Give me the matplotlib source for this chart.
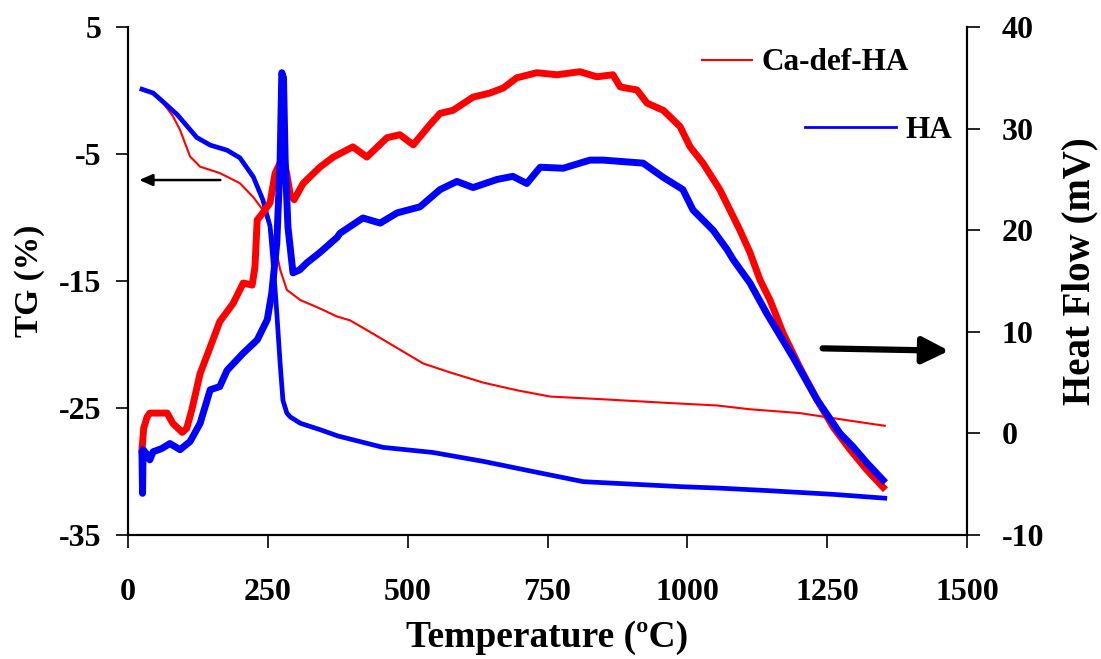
import matplotlib
matplotlib.use("Agg")
import matplotlib.pyplot as plt

plt.rcParams['font.family'] = ['Liberation Serif', 'DejaVu Serif']
plt.rcParams['font.weight'] = 'bold'
plt.rcParams['axes.unicode_minus'] = False

# TG curves (left axis, %)
tg_def_t = [25, 45, 63, 80, 93, 111, 129, 164, 200, 224, 241, 255, 266, 272, 284, 308, 340,
            374, 397, 440, 486, 528, 576, 635, 695, 755, 844, 964, 1053, 1112, 1201, 1291, 1353]
tg_def = [0.1, -0.2, -1.0, -2.0, -3.1, -5.2, -6.0, -6.5, -7.3, -8.4, -9.4, -10.8, -12.8, -14.1,
          -15.7, -16.5, -17.1, -17.8, -18.1, -19.2, -20.4, -21.5, -22.2, -23.0, -23.6, -24.1,
          -24.3, -24.6, -24.8, -25.1, -25.4, -26.0, -26.4]

tg_ha_t = [25, 45, 63, 88, 123, 147, 177, 200, 224, 241, 254, 259, 266, 272, 277, 284, 290, 308,
           343, 375, 456, 545, 635, 724, 814, 903, 992, 1053, 1142, 1261, 1353]
tg_ha = [0.1, -0.2, -0.9, -1.9, -3.7, -4.3, -4.7, -5.3, -6.8, -8.6, -10.7, -13.3, -17.5, -21.5,
         -24.4, -25.4, -25.7, -26.2, -26.7, -27.2, -28.1, -28.5, -29.2, -30.0, -30.8, -31.0,
         -31.2, -31.3, -31.5, -31.8, -32.1]

# heat flow curves (right axis, mV)
hf_def_t = [25, 28, 34, 39, 70, 80, 97, 105, 114, 129, 147, 164, 188, 206, 222, 227, 231, 241,
            254, 263, 277, 284, 290, 297, 313, 343, 367, 402, 427, 463, 486, 510, 540, 558, 581,
            617, 647, 671, 695, 731, 767, 808, 838, 867, 880, 910, 928, 957, 987, 1005, 1028,
            1058, 1076, 1094, 1112, 1130, 1148, 1171, 1201, 1232, 1261, 1291, 1321, 1350]
hf_def = [-1.6, 0.5, 1.6, 2.0, 2.0, 1.0, 0.1, 0.5, 2.3, 5.9, 8.5, 11.0, 12.8, 14.8, 14.6, 16.4,
          21.0, 21.7, 22.7, 25.6, 27.2, 25.5, 23.5, 23.0, 24.6, 26.2, 27.2, 28.2, 27.2, 29.1,
          29.4, 28.4, 30.4, 31.5, 31.8, 33.1, 33.5, 34.0, 35.0, 35.5, 35.3, 35.6, 35.1, 35.3,
          34.1, 33.8, 32.5, 31.8, 30.2, 28.2, 26.6, 24.0, 22.0, 20.0, 17.8, 15.1, 13.1, 9.9,
          6.5, 3.3, 0.6, -1.6, -3.6, -5.3]

hf_ha_t = [25, 26, 27, 33, 39, 45, 60, 75, 93, 111, 129, 147, 164, 177, 206, 231, 249, 257, 266,
           272, 275, 278, 281, 286, 295, 307, 320, 343, 374, 379, 420, 451, 481, 522, 558, 588,
           617, 660, 688, 713, 737, 778, 826, 849, 897, 921, 957, 992, 1010, 1046, 1071, 1082,
           1112, 1142, 1189, 1232, 1273, 1296, 1321, 1350]
hf_ha = [-2.0, -5.9, -1.6, -2.0, -2.6, -1.8, -1.5, -1.0, -1.6, -0.8, 1.0, 4.3, 4.6, 6.2, 7.9,
         9.2, 11.2, 13.8, 18.7, 26.9, 35.5, 35.0, 26.9, 20.3, 15.8, 16.1, 16.8, 17.8, 19.3,
         19.7, 21.2, 20.7, 21.7, 22.3, 24.0, 24.8, 24.2, 25.0, 25.3, 24.6, 26.2, 26.1, 26.9,
         26.9, 26.7, 26.6, 25.2, 24.0, 22.0, 20.0, 18.1, 17.1, 14.8, 11.8, 7.5, 3.3, 0.0,
         -1.3, -2.9, -4.6]

fig = plt.figure(figsize=(11.01, 6.59), dpi=100)
ax = fig.add_axes([128 / 1101, 1 - 535 / 659, 839 / 1101, 508 / 659])
ax2 = ax.twinx()

ax.plot(tg_def_t, tg_def, color='red', lw=1.5)
ax.plot(tg_ha_t, tg_ha, color='blue', lw=3.4)
l1, = ax2.plot(hf_def_t, hf_def, color='red', lw=5)
l2, = ax2.plot(hf_ha_t, hf_ha, color='blue', lw=5)

ax.set_xlim(0, 1500)
ax.set_ylim(-35, 5)
ax2.set_ylim(-10, 40)
ax.set_xticks(range(0, 1501, 250))
ax.set_yticks(range(-35, 6, 10))
ax2.set_yticks(range(-10, 41, 10))

for a in (ax, ax2):
    a.spines['top'].set_visible(False)
    for s in a.spines.values():
        s.set_linewidth(1.5)
    a.tick_params(labelsize=23, width=1.2, length=9)
ax.tick_params(axis='y', pad=10)
ax.tick_params(axis='x', pad=22)
ax2.tick_params(axis='y', pad=16)

ax.set_xlabel('Temperature (ºC)', fontsize=27, fontweight='bold')
ax.set_ylabel('TG (%)', fontsize=24, fontweight='bold')
ax2.set_ylabel('Heat Flow (mV)', fontsize=28, fontweight='bold')
ax.xaxis.set_label_coords(0.5, -0.168)
ax.yaxis.set_label_coords(-0.099, 0.5)
ax2.yaxis.set_label_coords(1.113, 0.52)

# axis arrows
ax.annotate('', xy=(15, -7.05), xytext=(170, -7.05),
            arrowprops=dict(arrowstyle='-|>,head_length=0.8,head_width=0.35', color='black', lw=1.8))
ax.annotate('', xy=(1473, -20.5), xytext=(1237, -20.3),
            arrowprops=dict(arrowstyle='-|>,head_length=1.6,head_width=0.8', color='black', lw=4.5))

# staggered legend entries
leg1 = ax2.legend([l1], ['Ca-def-HA'], loc='center left', bbox_to_anchor=(702 / 1101, 1 - 63 / 659),
                  bbox_transform=fig.transFigure, frameon=False, fontsize=22.5, handlelength=1.6,
                  handletextpad=0.3, borderpad=0, borderaxespad=0)
for h in leg1.get_lines():
    h.set_linewidth(1.5)
ax2.add_artist(leg1)
leg2 = ax2.legend([l2], ['HA'], loc='center left', bbox_to_anchor=(805 / 1101, 1 - 130 / 659),
                  bbox_transform=fig.transFigure, frameon=False, fontsize=22.5, handlelength=2.9,
                  handletextpad=0.3, borderpad=0, borderaxespad=0)
for h in leg2.get_lines():
    h.set_linewidth(2)

fig.savefig('out.png', dpi=100)
